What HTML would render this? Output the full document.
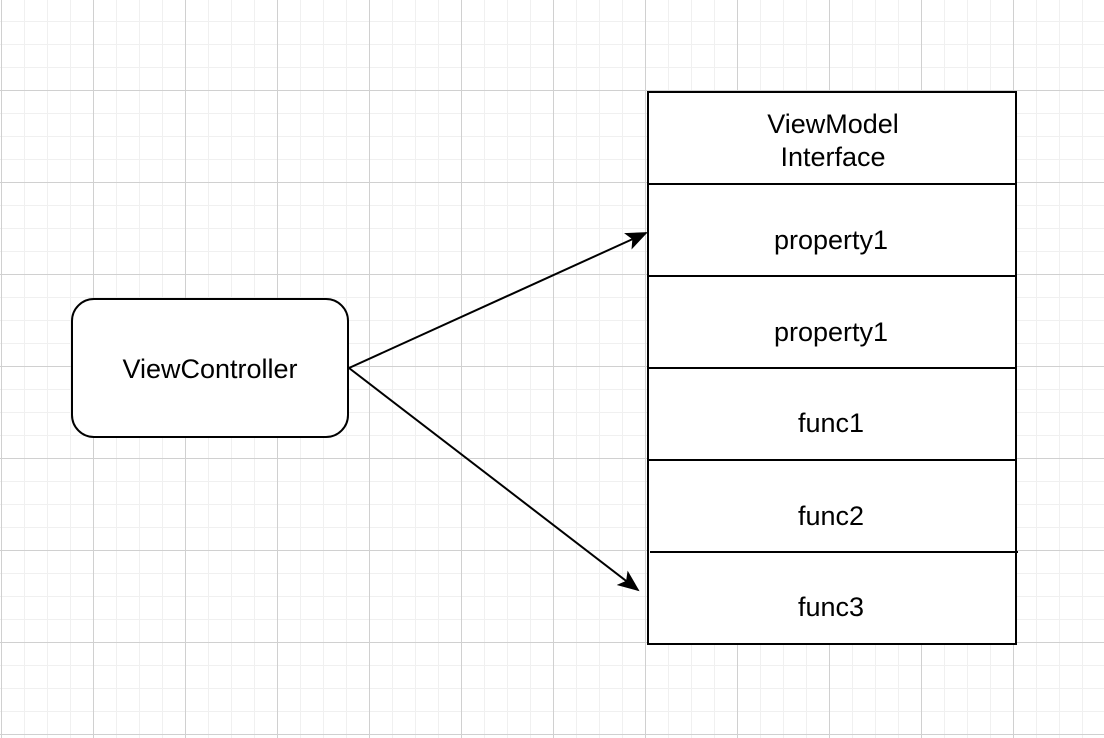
<!DOCTYPE html>
<html><head><style>
body{margin:0;width:1104px;height:738px;overflow:hidden;background:#fff;
background-image:linear-gradient(#d0d0d0 1px,transparent 1px),linear-gradient(90deg,#d0d0d0 1px,transparent 1px),linear-gradient(#f0f0f0 1px,transparent 1px),linear-gradient(90deg,#f0f0f0 1px,transparent 1px);
background-size:92px 92px,92px 92px,23px 23px,23px 23px;
background-position:0 90px,1px 0,0 21px,1px 0;font-family:"Liberation Sans",Arial,sans-serif}
</style></head><body>
<svg width="1104" height="738" style="position:absolute;left:0;top:0" font-family="Liberation Sans, Arial, sans-serif" font-size="27">
<defs><marker id="a" markerWidth="22" markerHeight="22" refX="20" refY="11" orient="auto" markerUnits="userSpaceOnUse" viewBox="0 0 22 22"><path d="M0,2 L22,11 L0,20 L5,11 Z" fill="#000"/></marker></defs>
<rect x="72" y="299" width="276" height="138" rx="22" fill="#fff" stroke="#000" stroke-width="2"/>
<text x="210" y="378" text-anchor="middle">ViewController</text>
<rect x="648" y="92" width="368" height="552" fill="#fff" stroke="#000" stroke-width="2"/>
<g stroke="#000" stroke-width="2"><line x1="648" y1="184" x2="1016" y2="184"/><line x1="648" y1="276" x2="1016" y2="276"/><line x1="648" y1="368" x2="1016" y2="368"/><line x1="648" y1="460" x2="1016" y2="460"/><line x1="650" y1="552" x2="1018" y2="552"/></g>
<g text-anchor="middle"><text x="833" y="133">ViewModel</text><text x="833" y="166">Interface</text>
<text x="831" y="249">property1</text><text x="831" y="341">property1</text><text x="831" y="432">func1</text><text x="831" y="525">func2</text><text x="831" y="616">func3</text></g>
<g stroke="#000" stroke-width="2" fill="none"><line x1="349" y1="368" x2="646" y2="233" marker-end="url(#a)"/><line x1="349" y1="368" x2="638" y2="590" marker-end="url(#a)"/></g>
</svg>
</body></html>
